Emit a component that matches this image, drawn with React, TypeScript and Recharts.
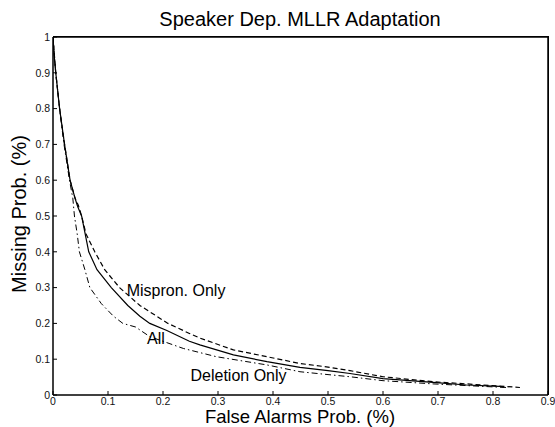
import { LineChart, Line, XAxis, YAxis, ReferenceDot } from "recharts";

const FONT = "'Liberation Sans', Arial, Helvetica, sans-serif";

const xTicks = [0, 0.1, 0.2, 0.3, 0.4, 0.5, 0.6, 0.7, 0.8, 0.9];
const yTicks = [0, 0.1, 0.2, 0.3, 0.4, 0.5, 0.6, 0.7, 0.8, 0.9, 1];

// "All" (solid)
const allX = [0, 0.002, 0.005, 0.012, 0.021, 0.031, 0.04, 0.045, 0.052, 0.065, 0.08, 0.106, 0.136, 0.158, 0.176, 0.207, 0.248, 0.267, 0.328, 0.389, 0.449, 0.5, 0.54, 0.6, 0.691, 0.752, 0.812, 0.82];
const allY = [1, 0.95, 0.9, 0.8, 0.7, 0.6, 0.55, 0.526, 0.5, 0.4, 0.35, 0.3, 0.25, 0.22, 0.2, 0.18, 0.15, 0.14, 0.112, 0.093, 0.077, 0.068, 0.06, 0.046, 0.035, 0.028, 0.024, 0.022];

// "Mispron. Only" (dashed)
const misX = [0, 0.005, 0.012, 0.021, 0.031, 0.04, 0.046, 0.052, 0.06, 0.076, 0.094, 0.121, 0.158, 0.209, 0.248, 0.267, 0.328, 0.389, 0.449, 0.5, 0.54, 0.6, 0.691, 0.752, 0.812, 0.849];
const misY = [1, 0.9, 0.8, 0.7, 0.6, 0.55, 0.53, 0.5, 0.45, 0.4, 0.35, 0.3, 0.25, 0.2, 0.172, 0.159, 0.126, 0.107, 0.088, 0.078, 0.068, 0.051, 0.037, 0.031, 0.025, 0.021];

// "Deletion Only" (dash-dot)
const delX = [0, 0.005, 0.012, 0.02, 0.03, 0.036, 0.039, 0.044, 0.048, 0.058, 0.067, 0.088, 0.11, 0.127, 0.15, 0.176, 0.237, 0.297, 0.389, 0.449, 0.5, 0.54, 0.6, 0.691, 0.782, 0.824];
const delY = [1, 0.9, 0.8, 0.7, 0.6, 0.55, 0.5, 0.45, 0.4, 0.35, 0.3, 0.255, 0.22, 0.2, 0.19, 0.163, 0.13, 0.107, 0.084, 0.065, 0.057, 0.051, 0.04, 0.031, 0.024, 0.021];

const pts = (xs: number[], ys: number[]) => xs.map((x, i) => ({ x, y: ys[i] }));

const labelStyle = { fontFamily: FONT, fontSize: 16, fill: "#000" };

const X_MAX = 0.9;
const Y_MAX = 1;

export default function App() {
  const all = pts(allX, allY);
  const mis = pts(misX, misY);
  const del = pts(delX, delY);

  const tickStyle = { fontFamily: FONT, fontSize: 10.5, fill: "#111" };

  return (
    <div style={{ position: "absolute", left: 0, top: 0, width: 555, height: 427, background: "#fff", fontFamily: FONT, overflow: "hidden" }}>
      <div style={{ position: "absolute", left: 0, width: 600, top: 8, textAlign: "center", fontSize: 20, lineHeight: "22px", color: "#000" }}>
        Speaker Dep. MLLR Adaptation
      </div>
      <div style={{ position: "absolute", left: 0, width: 600, top: 409, textAlign: "center", fontSize: 18.5, lineHeight: "16px", color: "#000" }}>
        False Alarms Prob. (%)
      </div>
      <div style={{ position: "absolute", left: 19, top: 214, transform: "translate(-50%, -50%) rotate(-90deg)", whiteSpace: "nowrap", fontSize: 20, lineHeight: "22px", color: "#000" }}>
        Missing Prob. (%)
      </div>

      {/* box edges (top / right) */}
      <div style={{ position: "absolute", left: 53, top: 36, width: 496, height: 359, borderTop: "1.5px solid #000", borderRight: "1.5px solid #000", boxSizing: "border-box" }} />

      {/* main chart: bottom/left axes, two curves, labels */}
      <div style={{ position: "absolute", left: 0, top: 0 }}>
        <LineChart width={555} height={427} margin={{ top: 37, right: 7, bottom: 0, left: 0 }}>
          <XAxis
            dataKey="x"
            type="number"
            domain={[0, X_MAX]}
            ticks={xTicks}
            allowDataOverflow
            height={32}
            stroke="#000"
            strokeWidth={1.5}
            tickSize={-4}
            tickMargin={7}
            tick={tickStyle}
            tickLine={{ stroke: "#000", strokeWidth: 1 }}
          />
          <YAxis
            dataKey="y"
            type="number"
            domain={[0, Y_MAX]}
            ticks={yTicks}
            allowDataOverflow
            width={53}
            stroke="#000"
            strokeWidth={1.5}
            tickSize={-4}
            tickMargin={7}
            tick={tickStyle}
            tickLine={{ stroke: "#000", strokeWidth: 1 }}
          />

          <Line data={mis} dataKey="y" type="linear" stroke="#000" strokeWidth={1.2} strokeDasharray="5 3" dot={false} isAnimationActive={false} />
          <Line data={del} dataKey="y" type="linear" stroke="#000" strokeWidth={1} strokeDasharray="6 3 1.5 3" dot={false} isAnimationActive={false} />

          <ReferenceDot x={0.134} y={0.293} r={0} fill="none" stroke="none"
            label={{ value: "Mispron. Only", position: "right", offset: 0, style: labelStyle }} />
          <ReferenceDot x={0.171} y={0.159} r={0} fill="none" stroke="none"
            label={{ value: "All", position: "right", offset: 0, style: labelStyle }} />
          <ReferenceDot x={0.25} y={0.056} r={0} fill="none" stroke="none"
            label={{ value: "Deletion Only", position: "right", offset: 0, style: labelStyle }} />
        </LineChart>
      </div>

      {/* overlay chart: top/right axes with inward ticks, solid "All" curve */}
      <div style={{ position: "absolute", left: 0, top: 0 }}>
        <LineChart width={555} height={427} margin={{ top: 36, right: 6, bottom: 32, left: 53 }}>
          <XAxis
            orientation="top"
            dataKey="x"
            type="number"
            domain={[0, X_MAX]}
            ticks={xTicks}
            allowDataOverflow
            height={1}
            stroke="#000"
            strokeWidth={1.5}
            tickSize={-4}
            tick={false}
            tickLine={{ stroke: "#000", strokeWidth: 1 }}
          />
          <YAxis
            orientation="right"
            dataKey="y"
            type="number"
            domain={[0, Y_MAX]}
            ticks={yTicks}
            allowDataOverflow
            width={1}
            stroke="#000"
            strokeWidth={1.5}
            tickSize={-4}
            tick={false}
            tickLine={{ stroke: "#000", strokeWidth: 1 }}
          />
          <Line data={all} dataKey="y" type="linear" stroke="#000" strokeWidth={1.2} dot={false} isAnimationActive={false} />
        </LineChart>
      </div>
    </div>
  );
}
